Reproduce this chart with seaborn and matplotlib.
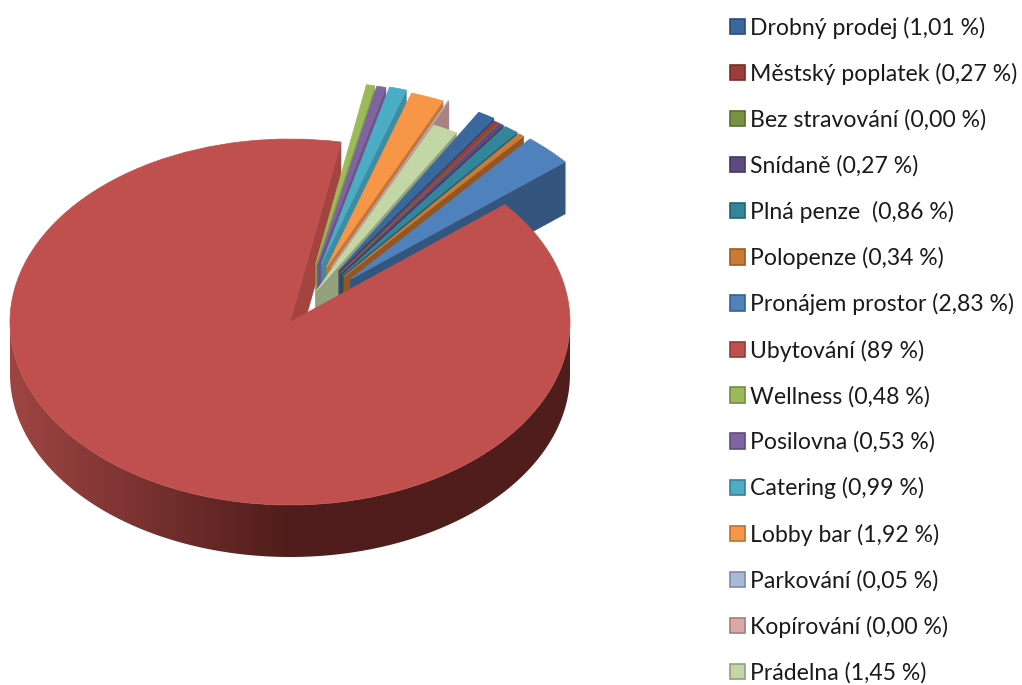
import numpy as np
import seaborn as sns
from matplotlib import pyplot as plt
from matplotlib.colors import LinearSegmentedColormap
from matplotlib.patches import Patch, Polygon

labels = ["Drobný prodej (1,01 %)", "Městský poplatek (0,27 %)", "Bez stravování (0,00 %)",
          "Snídaně (0,27 %)", "Plná penze  (0,86 %)", "Polopenze (0,34 %)",
          "Pronájem prostor (2,83 %)", "Ubytování (89 %)", "Wellness (0,48 %)",
          "Posilovna (0,53 %)", "Catering (0,99 %)", "Lobby bar (1,92 %)",
          "Parkování (0,05 %)", "Kopírování (0,00 %)", "Prádelna (1,45 %)"]
shares = [1.01, 0.27, 0.00, 0.27, 0.86, 0.34, 2.83, 89, 0.48, 0.53, 0.99, 1.92, 0.05, 0.00, 1.45]
hexes = ["#3A679C", "#9C3D3A", "#779341", "#5F4A80", "#33859C", "#CC7A33", "#4F81BD", "#C0504D",
         "#9BBB59", "#8064A2", "#4BACC6", "#F79646", "#A7B9D8", "#D9A8A7", "#C3D6A6"]
explode = [0.33, 0.32, 0.32, 0.32, 0.32, 0.32, 0.33, 0, 0.32, 0.32, 0.327, 0.32, 0.33, 0.33, 0.19]

sns.set_theme(style="white", rc={"font.family": ["Lato", "DejaVu Sans"]})
colors = sns.color_palette(hexes)

depth = 52 / 183
main = shares.index(max(shares))

fig = plt.figure(figsize=(10.22, 6.85), dpi=100)
ax = fig.add_axes([0, 0, 1, 1])
wedges, _ = ax.pie(shares, explode=explode, colors=colors, startangle=60, counterclock=False, radius=1)


def set_box():
    # pie is squashed into an ellipse, same pixel box as the original
    ax.set_aspect("auto")
    ax.set_xlim(-290 / 280, (1022 - 290) / 280)
    ax.set_ylim((322 - 685) / 183, 322 / 183)


set_box()

# clockwise from the big slice's edge, later slices sit on top of earlier walls
order = list(range(main + 1, len(shares))) + list(range(main))
for rank, i in enumerate([main] + order):
    w = wedges[i]
    if i != main:
        # the original has some perspective, far slices lean to the right
        mid = ((w.theta1 + w.theta2) / 2) % 360
        w.set_center((w.center[0] + 0.38 * (mid - 58) / 280, w.center[1]))
    th = np.deg2rad(w.theta1)
    cx, cy = w.center
    ox, oy = cx + w.r * np.cos(th), cy + w.r * np.sin(th)
    a = (w.theta1 % 360 - 40) / 40
    shade = 0.66 + 0.19 * np.clip(a, 0, 1)
    ax.fill([cx, ox, ox, cx], [cy, oy, oy - depth, cy - depth],
            color=np.array(colors[i]) * shade, lw=0.4, zorder=2 + 2 * rank)
    w.set_edgecolor(colors[i])
    w.set_linewidth(0.5)
    w.set_zorder(3 + 2 * rank)
wedges[main].set_zorder(60)

# front rim of the big slice, shaded from left to right
t = np.linspace(np.pi, 2 * np.pi, 200)
rim = np.r_[np.c_[np.cos(t), np.sin(t)], np.c_[np.cos(t[::-1]), np.sin(t[::-1]) - depth]]
clip = Polygon(rim, transform=ax.transData, fc="none", ec="none")
ax.add_patch(clip)
rim_cmap = LinearSegmentedColormap.from_list("rim", ["#9E4543", "#4F1D1B", "#4F1D1B"])
img = ax.imshow(np.linspace(0, 1, 256)[None, :], cmap=rim_cmap, aspect="auto",
                extent=(-1, 1, -1 - depth, 0), zorder=59)
img.set_clip_path(clip)
set_box()

handles = [Patch(facecolor=c, edgecolor=np.array(c) * 0.75, linewidth=1.2) for c in colors]
fig.legend(handles, labels, loc="upper left", bbox_to_anchor=(730 / 1022, 1 - 16.5 / 685),
           frameon=False, fontsize=16.6, labelcolor="#1a1a1a", borderpad=0, borderaxespad=0,
           handlelength=0.65, handleheight=0.65, handletextpad=0.2, labelspacing=1.05)

plt.savefig("out.png", dpi=100)
